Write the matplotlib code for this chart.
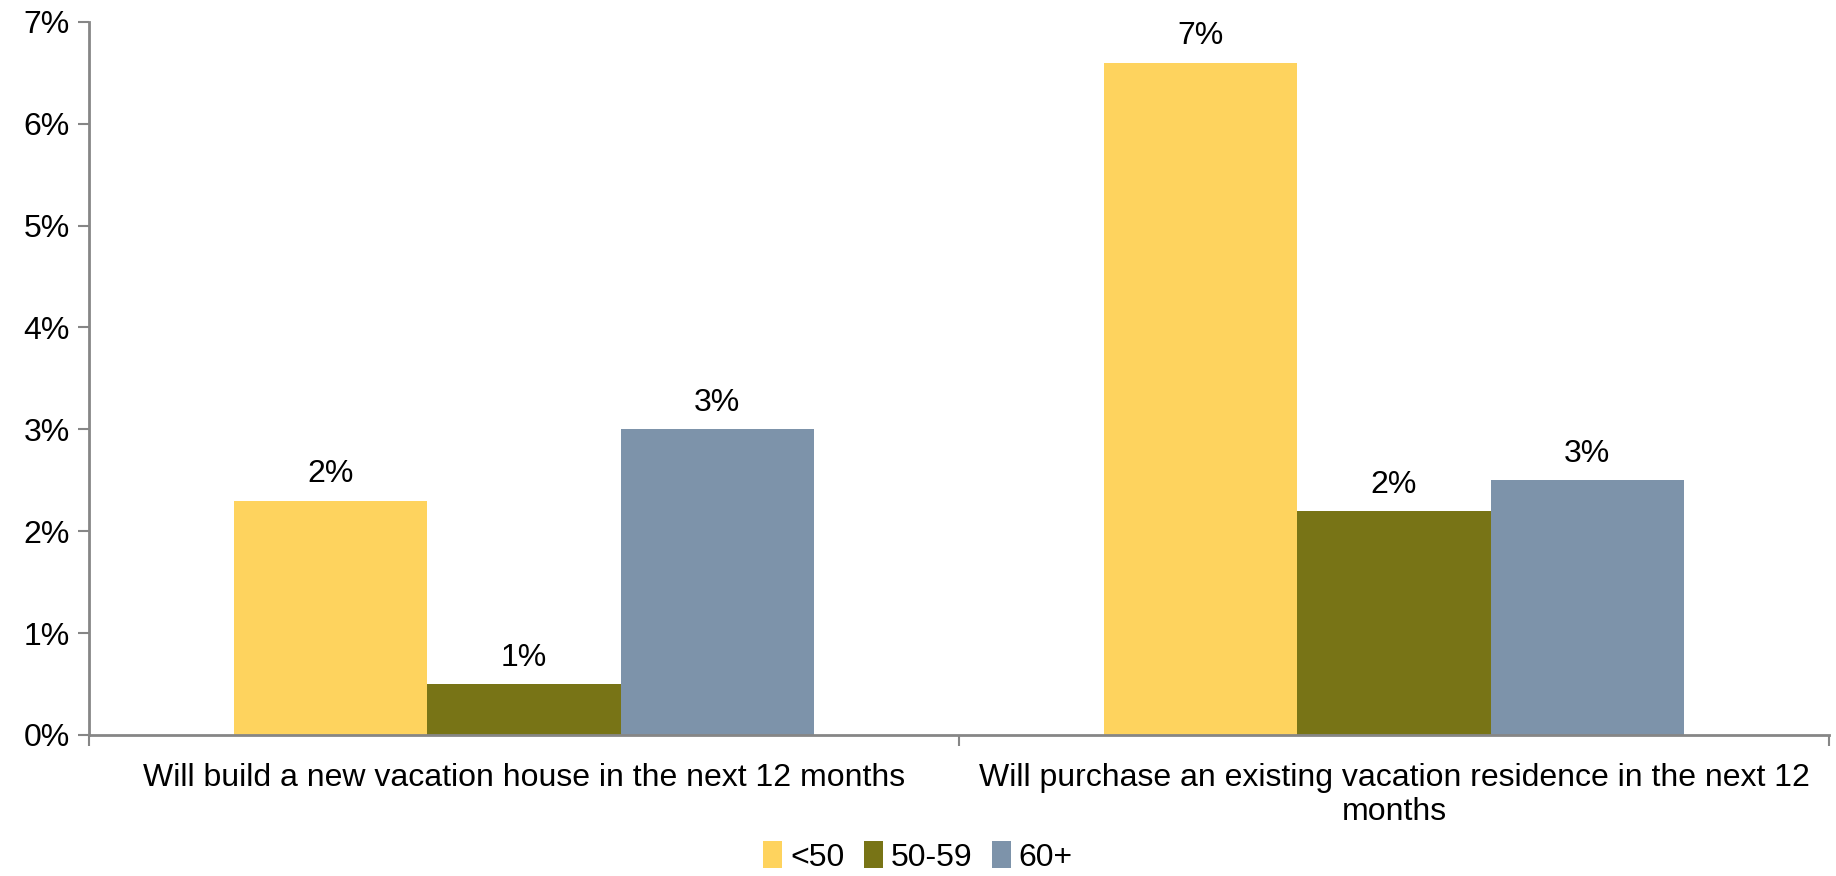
import math
import matplotlib
matplotlib.use("Agg")
import matplotlib.pyplot as plt
import numpy as np

categories = ["Will build a new vacation house in the next 12 months",
              "Will purchase an existing vacation residence in the next 12\nmonths"]
age_groups = ["<50", "50-59", "60+"]
under_50 = [2.3, 6.6]
age_50_59 = [0.5, 2.2]
age_60_plus = [3.0, 2.5]
y_ticks = [0, 1, 2, 3, 4, 5, 6, 7]

colors = ["#FED35E", "#787416", "#7D93AA"]
axis_gray = "#868686"
fs = 23

plt.rcParams["font.family"] = ["Liberation Sans", "DejaVu Sans"]

fig = plt.figure(figsize=(18.36, 8.76), dpi=100)
ax = fig.add_axes([0.0485, 0.161, 0.9477, 0.814])

x = np.arange(len(categories))
width = 0.222
series = [under_50, age_50_59, age_60_plus]
for i, (vals, name) in enumerate(zip(series, age_groups)):
    pos = x + (i - 1) * width
    bars = ax.bar(pos, vals, width, color=colors[i], label=name, zorder=2)
    for b, v in zip(bars, vals):
        # excel-style rounding, half goes up
        txt = "{}%".format(int(math.floor(v + 0.5)))
        ax.text(b.get_x() + b.get_width() / 2, v + 0.11, txt,
                ha="center", va="bottom", fontsize=fs, color="black")

ax.set_xlim(-0.5, len(categories) - 0.5)
ax.set_ylim(0, 7)
ax.set_yticks(y_ticks)
ax.set_yticklabels(["{}%".format(t) for t in y_ticks], fontsize=fs)

# boundary ticks on the x axis, labels at category centres
ax.set_xticks(np.arange(len(categories) + 1) - 0.5)
ax.set_xticklabels([])
ax.set_xticks(x, minor=True)
ax.set_xticklabels(categories, minor=True, fontsize=fs)
ax.tick_params(axis="x", which="minor", length=0, pad=20)
ax.tick_params(axis="x", which="major", length=8, color=axis_gray, width=1.5)
ax.tick_params(axis="y", length=8, color=axis_gray, width=1.5, pad=6)

for s in ["top", "right"]:
    ax.spines[s].set_visible(False)
for s in ["left", "bottom"]:
    ax.spines[s].set_color(axis_gray)
    ax.spines[s].set_linewidth(2)

fig.legend(loc="lower center", bbox_to_anchor=(0.5, -0.029), ncol=3, frameon=False,
           fontsize=fs, handlelength=0.6, handleheight=0.9, handletextpad=0.25,
           columnspacing=0.6)

fig.savefig("out.png", dpi=100)
